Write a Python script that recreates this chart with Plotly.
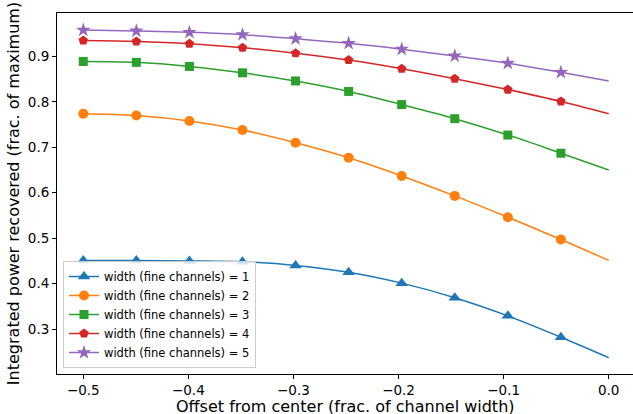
import plotly.graph_objects as go

# Offsets (frac. of channel width) at which values were read
offsets = [-0.5, -0.4495, -0.399, -0.3485, -0.298, -0.2475, -0.197, -0.1465, -0.096, -0.0455, 0.0]

width_1 = [0.451, 0.451, 0.450, 0.448, 0.440, 0.425, 0.401, 0.369, 0.329, 0.282, 0.237]
width_2 = [0.774, 0.770, 0.758, 0.738, 0.710, 0.677, 0.637, 0.593, 0.546, 0.497, 0.451]
width_3 = [0.889, 0.887, 0.878, 0.864, 0.846, 0.823, 0.794, 0.763, 0.727, 0.687, 0.650]
width_4 = [0.935, 0.933, 0.928, 0.919, 0.907, 0.892, 0.873, 0.851, 0.827, 0.801, 0.774]
width_5 = [0.958, 0.956, 0.953, 0.948, 0.939, 0.929, 0.916, 0.901, 0.885, 0.865, 0.846]

series_names = ["width (fine channels) = 1", "width (fine channels) = 2",
                "width (fine channels) = 3", "width (fine channels) = 4",
                "width (fine channels) = 5"]

x_title = "Offset from center (frac. of channel width)"
y_title = "Integrated power recovered (frac. of maximum)"

x_tickvals = [-0.5, -0.4, -0.3, -0.2, -0.1, 0.0]
x_ticktext = ["\u22120.5", "\u22120.4", "\u22120.3", "\u22120.2", "\u22120.1", "0.0"]
y_tickvals = [0.3, 0.4, 0.5, 0.6, 0.7, 0.8, 0.9]
y_ticktext = ["0.3", "0.4", "0.5", "0.6", "0.7", "0.8", "0.9"]

colors = ["#1f77b4", "#ff7f0e", "#2ca02c", "#d62728", "#9467bd"]
symbols = ["triangle-up", "circle", "square", "pentagon", "star"]
msizes = [11, 10, 9, 10, 11]

fig = go.Figure()
for ys, name, c, s, ms in zip([width_1, width_2, width_3, width_4, width_5],
                              series_names, colors, symbols, msizes):
    mcolors = [c] * (len(offsets) - 1) + ["rgba(0,0,0,0)"]
    fig.add_trace(go.Scatter(
        x=offsets, y=ys, name=name, mode="lines+markers",
        line=dict(color=c, width=1.5, shape="spline", smoothing=1.0),
        marker=dict(symbol=s, size=ms, color=mcolors, line=dict(width=0)),
    ))

font = "DejaVu Sans, sans-serif"
fig.update_layout(
    width=633, height=414,
    margin=dict(l=57, r=0, t=13, b=40, autoexpand=False),
    paper_bgcolor="white", plot_bgcolor="white",
    font=dict(family=font, color="black"),
    showlegend=True,
    legend=dict(
        x=0.0104, y=0.0166, xanchor="left", yanchor="bottom",
        bgcolor="rgba(255,255,255,0.8)", bordercolor="#cccccc", borderwidth=1,
        font=dict(size=11.5, family=font), tracegroupgap=0,
        itemwidth=30,
    ),
    xaxis=dict(
        range=[-0.525, 0.0231], showgrid=False, zeroline=False, automargin=False,
        showline=True, linecolor="black", linewidth=1, mirror=True,
        ticks="outside", ticklen=4, tickcolor="black",
        tickvals=x_tickvals, ticktext=x_ticktext,
        tickfont=dict(size=13.5, family=font),
    ),
    yaxis=dict(
        range=[0.201, 0.9956], showgrid=False, zeroline=False, automargin=False,
        showline=True, linecolor="black", linewidth=1, mirror=False,
        ticks="outside", ticklen=4, tickcolor="black",
        tickvals=y_tickvals, ticktext=y_ticktext,
        tickfont=dict(size=13.5, family=font),
        title=dict(text=y_title, font=dict(size=16, family=font), standoff=4),
    ),
    annotations=[dict(
        text=x_title, xref="paper", yref="paper", x=0.5, y=-32 / 361,
        xanchor="center", yanchor="middle", showarrow=False,
        height=16, borderpad=0,
        font=dict(size=16, family=font, color="black"),
    )],
)

fig.write_html("out.html", post_script="document.body.style.margin='0';",
               config={"displayModeBar": False})
